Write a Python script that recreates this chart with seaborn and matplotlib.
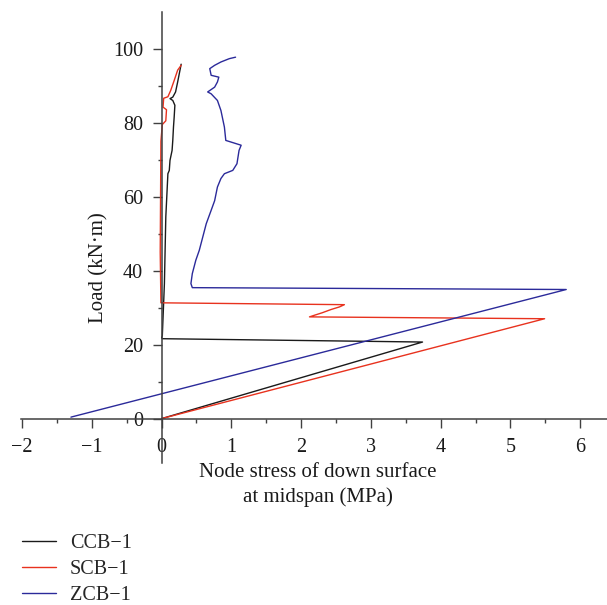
import numpy as np
import pandas as pd
import matplotlib
matplotlib.use("Agg")
import matplotlib.pyplot as plt
from matplotlib.ticker import FixedLocator
import seaborn as sns

# Node stress (MPa) vs. applied load (kN·m) for each beam
ccb_stress = [0, 3.74, 0.01, 0.0, 0.01, 0.04, 0.06, 0.09, 0.11, 0.12, 0.15, 0.16,
              0.17, 0.18, 0.19, 0.16, 0.12, 0.16, 0.20, 0.23, 0.28]
ccb_load = [0, 20.7, 21.6, 21.9, 22.4, 36.5, 54.5, 66.2, 67.1, 69.8, 72.5, 75.2,
            78.8, 81.5, 84.7, 86.0, 86.5, 86.9, 88.3, 91.0, 95.8]

scb_stress = [0, 5.49, 2.12, 2.20, 2.30, 2.43, 2.55, 2.62, -0.01, -0.02, -0.015, -0.01,
              0.01, 0.06, 0.07, 0.02, 0.03, 0.09, 0.13, 0.18, 0.23, 0.28]
scb_load = [0, 27.0, 27.5, 28.0, 28.6, 29.5, 30.2, 30.8, 31.3, 45.0, 60.0, 75.0,
            79.5, 80.5, 83.5, 84.2, 86.6, 87.0, 88.7, 91.4, 94.2, 95.5]

zcb_stress = [-1.30, 5.80, 0.44, 0.42, 0.44, 0.49, 0.54, 0.59, 0.64, 0.71, 0.76, 0.80,
              0.85, 0.90, 1.02, 1.08, 1.11, 1.14, 0.92, 0.90, 0.85, 0.80, 0.71, 0.66,
              0.76, 0.80, 0.82, 0.71, 0.69, 0.76, 0.85, 0.97, 1.06]
zcb_load = [0.4, 34.9, 35.4, 36.5, 39.2, 42.8, 45.5, 49.1, 52.7, 56.3, 58.9, 62.6,
            64.9, 66.2, 67.1, 68.9, 72.5, 73.9, 75.2, 78.8, 83.3, 86.0, 87.8, 88.3,
            89.6, 91.0, 92.3, 92.8, 94.6, 95.5, 96.4, 97.3, 97.7]

series_names = ["CCB\u22121", "SCB\u22121", "ZCB\u22121"]
series_colors = ["#1a1a1a", "#e8321e", "#2b2a9a"]

x_major = [-2, -1, 0, 1, 2, 3, 4, 5, 6]
y_major = [0, 20, 40, 60, 80, 100]

frames = []
for name, xs, ys in zip(series_names,
                        [ccb_stress, scb_stress, zcb_stress],
                        [ccb_load, scb_load, zcb_load]):
    frames.append(pd.DataFrame({"stress": xs, "load": ys, "beam": name,
                                "step": np.arange(len(xs))}))
df = pd.concat(frames, ignore_index=True)

sns.set_style("ticks")
plt.rcParams["font.family"] = ["Liberation Serif", "DejaVu Serif"]
plt.rcParams["axes.unicode_minus"] = True

fig = plt.figure(figsize=(6.07, 6.05), dpi=100)
ax = fig.add_axes([0.0341, 0.2347, 0.9654, 0.746])

sns.lineplot(data=df, x="stress", y="load", hue="beam", hue_order=series_names,
             palette=series_colors, sort=False, estimator=None, linewidth=1.0,
             legend=False, ax=ax)

ax.set_xlim(-2.02, 6.38)
ax.set_ylim(-12, 110)

spine_color = "#404040"
for side in ["top", "right"]:
    ax.spines[side].set_visible(False)
ax.spines["left"].set_position(("data", 0))
ax.spines["bottom"].set_position(("data", 0))
for side in ["left", "bottom"]:
    ax.spines[side].set_color(spine_color)
    ax.spines[side].set_linewidth(1.1)

ax.xaxis.set_major_locator(FixedLocator(x_major))
ax.xaxis.set_minor_locator(FixedLocator([v + 0.5 for v in x_major[:-1]]))
ax.yaxis.set_major_locator(FixedLocator(y_major))
ax.yaxis.set_minor_locator(FixedLocator([v + 10 for v in y_major[:-1]]))
ax.set_xticklabels([str(v).replace("-", "\u2212") for v in x_major])
ax.set_yticklabels([str(v) for v in y_major])

ax.tick_params(which="both", direction="out", color=spine_color, width=1.0,
               labelsize=14.5, labelcolor="#1a1a1a")
ax.tick_params(which="major", length=6.5)
ax.tick_params(which="minor", length=3)
ax.tick_params(axis="x", which="major", pad=7.5)
ax.tick_params(axis="y", which="major", pad=7)

ax.set_xlabel("Node stress of down surface\nat midspan (MPa)", fontsize=15,
              color="#1a1a1a", linespacing=1.35)
ax.xaxis.set_label_coords(0.507, 0.0)
ax.set_ylabel("Load (kN\u00b7m)", fontsize=15, color="#1a1a1a")
ax.yaxis.set_label_coords(0.150, 0.432)

fig.legend(ax.get_lines()[:3], series_names, loc="upper left",
           bbox_to_anchor=(0.0357, 0.118), frameon=False, fontsize=14.5,
           handlelength=1.7, handletextpad=0.7, labelspacing=0.36,
           borderpad=0, borderaxespad=0)

fig.savefig("out.png", dpi=100)
